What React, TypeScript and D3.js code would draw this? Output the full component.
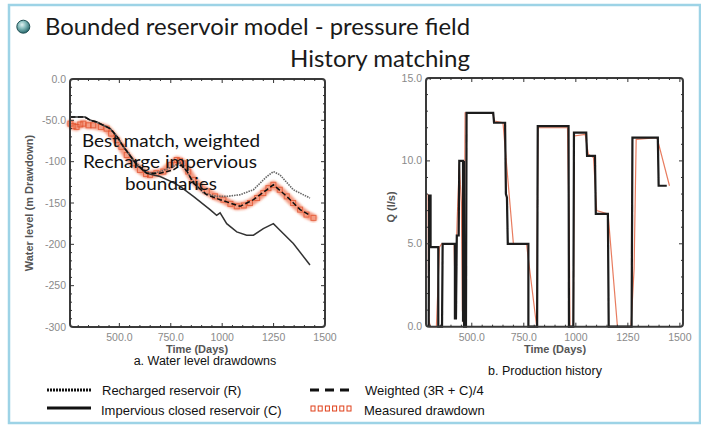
import React from "react";
import * as d3 from "d3";

type P = [number, number];

// ---------- Left chart (water level drawdowns) ----------
const leftXTicks = [500, 750, 1000, 1250, 1500];
const leftXTickLabels = ["500.0", "750.0", "1000", "1250", "1500"];
const leftYTicks = [0, -50, -100, -150, -200, -250, -300];
const leftYTickLabels = ["0.0", "-50.0", "-100", "-150", "-200", "-250", "-300"];

const rechargedR: P[] = [
  [262, -46], [276, -46], [333, -46], [360, -50], [390, -52], [455, -60], [490, -70],
  [520, -82], [550, -92], [584, -102], [633, -113], [660, -114], [698, -112], [762, -106],
  [795, -101], [811, -106], [860, -124], [909, -138], [973, -142], [1022, -142],
  [1087, -140], [1152, -134], [1217, -118], [1249, -112], [1281, -116], [1346, -134], [1427, -144],
];
const imperviousC: P[] = [
  [262, -46], [276, -46], [333, -46], [360, -50], [390, -52], [455, -60], [490, -70],
  [520, -82], [550, -92], [584, -104], [633, -114], [698, -118], [760, -125], [795, -130],
  [860, -142], [941, -158], [973, -165], [990, -162], [1022, -175], [1071, -185],
  [1119, -189], [1152, -189], [1200, -181], [1249, -175], [1281, -183], [1346, -199], [1427, -225],
];
const weightedW: P[] = [
  [262, -46], [276, -46], [333, -46], [360, -50], [390, -52], [455, -60], [490, -70],
  [520, -82], [550, -92], [584, -103], [633, -114], [698, -114], [762, -110], [800, -104],
  [830, -112], [860, -126], [925, -140], [990, -146], [1087, -154], [1152, -146],
  [1217, -134], [1249, -128], [1314, -142], [1379, -158], [1427, -165],
];
const measured: P[] = [
  [262, -54], [276, -57], [292, -58], [310, -55], [325, -54], [350, -56], [373, -56],
  [410, -58], [438, -60], [460, -66], [487, -74], [510, -82], [536, -92], [570, -102],
  [600, -110], [630, -115], [649, -116], [680, -114], [714, -112], [750, -104], [779, -98],
  [795, -99], [811, -102], [835, -112], [860, -122], [890, -130], [925, -136], [965, -142],
  [1006, -146], [1040, -151], [1071, -154], [1105, -153], [1135, -150], [1170, -144],
  [1200, -138], [1225, -132], [1249, -128], [1280, -134], [1314, -142], [1345, -150],
  [1379, -158], [1410, -164], [1444, -168],
];

// ---------- Right chart (production history) ----------
const rightXTicks = [500, 750, 1000, 1250, 1500];
const rightXTickLabels = ["500.0", "750.0", "1000", "1250", "1500"];
const rightYTicks = [0, 5, 10, 15];
const rightYTickLabels = ["0.0", "5.0", "10.0", "15.0"];

const modelQ: P[] = [
  [293, 0], [295, 7.9], [302, 7.9], [302, 4.8], [339, 4.8], [339, 0], [357, 0], [360, 5.0],
  [419, 5.0], [419, 0.5], [424, 0.5], [428, 5.5], [437, 5.5], [440, 10.0], [458, 10.0],
  [458, 0.3], [462, 10.0], [463, 0], [472, 0], [475, 12.9], [603, 12.9], [607, 12.3],
  [660, 12.3], [664, 8.0], [669, 7.8], [673, 5.0], [772, 5.0], [772, 0], [814, 0],
  [817, 12.1], [965, 12.1], [967, 0], [988, 0], [991, 11.7], [1050, 11.7], [1054, 10.3],
  [1092, 10.3], [1096, 6.8], [1154, 6.8], [1158, 0], [1268, 0], [1272, 11.4], [1394, 11.4],
  [1398, 8.5], [1437, 8.5],
];
const measuredQ: P[] = [
  [290, 8.0], [293, 0.5], [300, 0], [330, 0], [345, 4.8], [355, 5.0], [415, 5.0],
  [420, 2.0], [430, 6.5], [440, 9.8], [450, 7.5], [455, 1.0], [462, 0], [468, 12.9],
  [600, 12.9], [610, 12.4], [650, 12.3], [700, 5.0], [763, 5.0], [812, 0], [818, 12.0],
  [960, 12.0], [968, 6.0], [972, 0], [988, 0], [992, 11.5], [1045, 11.6], [1060, 10.4],
  [1085, 10.2], [1100, 7.0], [1155, 6.8], [1200, 0], [1265, 0], [1280, 3.5], [1290, 11.3],
  [1390, 11.4], [1450, 8.5],
];

const legendItems = [
  "Recharged reservoir (R)",
  "Impervious closed reservoir (C)",
  "Weighted (3R + C)/4",
  "Measured drawdown",
];

const FONT = "'Liberation Sans', Arial, sans-serif";
const TITLE_FONT = "Lato, 'Noto Sans', sans-serif";

function Ticks({ x, y, xMajor, xMinor, yMajor, yMinor }: any) {
  const [x0, x1] = x.range();
  const [y0, y1] = y.range();
  const top = Math.min(y0, y1), bot = Math.max(y0, y1);
  const els: any[] = [];
  const add = (k: string, a: number, b: number, c: number, d: number) =>
    els.push(<line key={k} x1={a} y1={b} x2={c} y2={d} stroke="#333" strokeWidth={1} />);
  xMinor.forEach((v: number, i: number) => {
    const px = x(v);
    if (px <= x0 + 1 || px >= x1 - 1) return;
    const L = xMajor.includes(v) ? 4 : 2;
    add("xb" + i, px, bot, px, bot - L);
    add("xt" + i, px, top, px, top + L);
  });
  yMinor.forEach((v: number, i: number) => {
    const py = y(v);
    if (py <= top + 1 || py >= bot - 1) return;
    const L = yMajor.includes(v) ? 4 : 2;
    add("yl" + i, x0, py, x0 + L, py);
    add("yr" + i, x1, py, x1 - L, py);
  });
  return <g>{els}</g>;
}

export default function App() {
  // left scales
  const lx = d3.scaleLinear().domain([260, 1500]).range([70, 325]);
  const ly = d3.scaleLinear().domain([0, -300]).range([79, 327]);
  // right scales
  const rx = d3.scaleLinear().domain([280, 1515]).range([426, 683]);
  const ry = d3.scaleLinear().domain([0, 15]).range([326.7, 78]);

  const lLine = d3.line<P>().x((d) => lx(d[0])).y((d) => ly(d[1]));
  const rLine = d3.line<P>().x((d) => rx(d[0])).y((d) => ry(d[1]));

  const lxMinor = d3.range(300, 1501, 50);
  const lyMinor = d3.range(0, -301, -10);
  const rxMinor = d3.range(300, 1501, 50);
  const ryMinor = d3.range(0, 15.01, 1);

  const tickStyle = { fontFamily: FONT, fontSize: 10.5, fill: "#8a8a8a" } as any;
  const axisTitle = { fontFamily: FONT, fontSize: 11, fontWeight: 700, fill: "#555" } as any;

  return (
    <svg
      width={701}
      height={435}
      style={{ position: "absolute", left: 0, top: 0, background: "#fff" }}
    >
      <defs>
        <radialGradient id="bullet" cx="40%" cy="35%" r="65%">
          <stop offset="0%" stopColor="#e2f2f2" />
          <stop offset="45%" stopColor="#86bcbc" />
          <stop offset="100%" stopColor="#2a6a6e" />
        </radialGradient>
        <filter id="soft" x="-5%" y="-5%" width="110%" height="110%">
          <feGaussianBlur stdDeviation="0.4" />
        </filter>
        <filter id="blur2" x="-5%" y="-5%" width="110%" height="110%">
          <feGaussianBlur stdDeviation="1.2" />
        </filter>
      </defs>
      <rect x={0} y={0} width={701} height={435} fill="#fff" />
      {/* frame */}
      <rect x={9} y={5} width={691} height={418} fill="none" stroke="#9dd3e6" strokeWidth={2.5} />

      {/* title */}
      <circle cx={23.3} cy={26.7} r={6.5} fill="url(#bullet)" stroke="#1f4f53" strokeWidth={1} />
      <text x={45} y={35} fontFamily={TITLE_FONT} fontSize={23} fill="#1a1a1a" textLength={425} lengthAdjust="spacingAndGlyphs">
        Bounded reservoir model - pressure field
      </text>
      <text x={290} y={67} fontFamily={TITLE_FONT} fontSize={23} fill="#1a1a1a" textLength={180} lengthAdjust="spacingAndGlyphs">
        History matching
      </text>

      {/* ---------- left chart ---------- */}
      <g>
        <path
          d={lLine(measured) || ""}
          fill="none"
          stroke="#ec5a32"
          strokeOpacity={0.6}
          strokeWidth={8}
          strokeLinejoin="round"
          strokeLinecap="round"
          filter="url(#blur2)"
        />
        {measured.map((d, i) => (
          <rect
            key={i}
            x={lx(d[0]) - 2.5}
            y={ly(d[1]) - 2.5}
            width={5}
            height={5}
            fill="none"
            stroke="#e04a24"
            strokeOpacity={0.7}
            strokeWidth={1}
          />
        ))}
        <g filter="url(#soft)">
          <path d={lLine(imperviousC) || ""} fill="none" stroke="#333" strokeWidth={1.5} />
          <path d={lLine(rechargedR) || ""} fill="none" stroke="#666" strokeWidth={1.6} strokeDasharray="1.5,1" />
          <path d={lLine(weightedW) || ""} fill="none" stroke="#111" strokeWidth={1.5} strokeDasharray="5,2.5" />
        </g>
        <rect x={70} y={79} width={255} height={248} fill="none" stroke="#3a3a3a" strokeWidth={2} rx={3} />
        <Ticks x={lx} y={ly} xMajor={leftXTicks} xMinor={lxMinor} yMajor={leftYTicks} yMinor={lyMinor} />
        {leftYTicks.map((v, i) => (
          <text key={i} x={66} y={ly(v) + 3.5} textAnchor="end" {...tickStyle}>
            {leftYTickLabels[i]}
          </text>
        ))}
        {leftXTicks.map((v, i) => (
          <text key={i} x={lx(v)} y={341} textAnchor="middle" {...tickStyle}>
            {leftXTickLabels[i]}
          </text>
        ))}
        <text x={197} y={353} textAnchor="middle" {...axisTitle}>Time  (Days)</text>
        <text transform="translate(33,203) rotate(-90)" textAnchor="middle" {...axisTitle}>
          Water  level  (m  Drawdown)
        </text>
        <text x={205} y={365} textAnchor="middle" fontFamily={FONT} fontSize={12.5} fill="#111">
          a. Water level drawdowns
        </text>
        <g fontFamily={TITLE_FONT} fontSize={18} fill="#111" textAnchor="middle" lengthAdjust="spacingAndGlyphs">
          <text x={171} y={147} textLength={178} lengthAdjust="spacingAndGlyphs">Best match, weighted</text>
          <text x={170} y={168} textLength={174} lengthAdjust="spacingAndGlyphs">Recharge impervious</text>
          <text x={171} y={190} textLength={92} lengthAdjust="spacingAndGlyphs">boundaries</text>
        </g>
      </g>

      {/* ---------- right chart ---------- */}
      <g>
        <path d={rLine(measuredQ) || ""} fill="none" stroke="#e0502a" strokeOpacity={0.75} strokeWidth={1.2} />
        <path d={rLine(modelQ) || ""} fill="none" stroke="#1a1a1a" strokeWidth={2.2} filter="url(#soft)" />
        <rect x={426} y={78} width={257} height={248.7} fill="none" stroke="#3a3a3a" strokeWidth={2} rx={3} />
        <Ticks x={rx} y={ry} xMajor={rightXTicks} xMinor={rxMinor} yMajor={rightYTicks} yMinor={ryMinor} />
        {rightYTicks.map((v, i) => (
          <text key={i} x={422} y={ry(v) + 3.5} textAnchor="end" {...tickStyle}>
            {rightYTickLabels[i]}
          </text>
        ))}
        {rightXTicks.map((v, i) => (
          <text key={i} x={rx(v)} y={341} textAnchor="middle" {...tickStyle}>
            {rightXTickLabels[i]}
          </text>
        ))}
        <text x={555} y={353} textAnchor="middle" {...axisTitle}>Time  (Days)</text>
        <text transform="translate(395,207) rotate(-90)" textAnchor="middle" {...axisTitle}>
          Q  (l/s)
        </text>
        <text x={545} y={375} textAnchor="middle" fontFamily={FONT} fontSize={12.5} fill="#111">
          b. Production history
        </text>
      </g>

      {/* ---------- legend ---------- */}
      <g fontFamily={FONT} fontSize={13} fill="#111">
        <line x1={47} y1={390} x2={91} y2={390} stroke="#111" strokeWidth={3} strokeDasharray="2,1" />
        <text x={102} y={395}>{legendItems[0]}</text>
        <line x1={47} y1={408} x2={91} y2={408} stroke="#111" strokeWidth={3} />
        <text x={101} y={415}>{legendItems[1]}</text>
        <line x1={310} y1={390} x2={353} y2={390} stroke="#111" strokeWidth={3} strokeDasharray="9,6" />
        <text x={365} y={395}>{legendItems[2]}</text>
        {d3.range(6).map((i) => (
          <rect key={i} x={311 + i * 7.2} y={406} width={4} height={5} fill="#fff" stroke="#e0401a" strokeWidth={1} />
        ))}
        <text x={364} y={415}>{legendItems[3]}</text>
      </g>
    </svg>
  );
}
